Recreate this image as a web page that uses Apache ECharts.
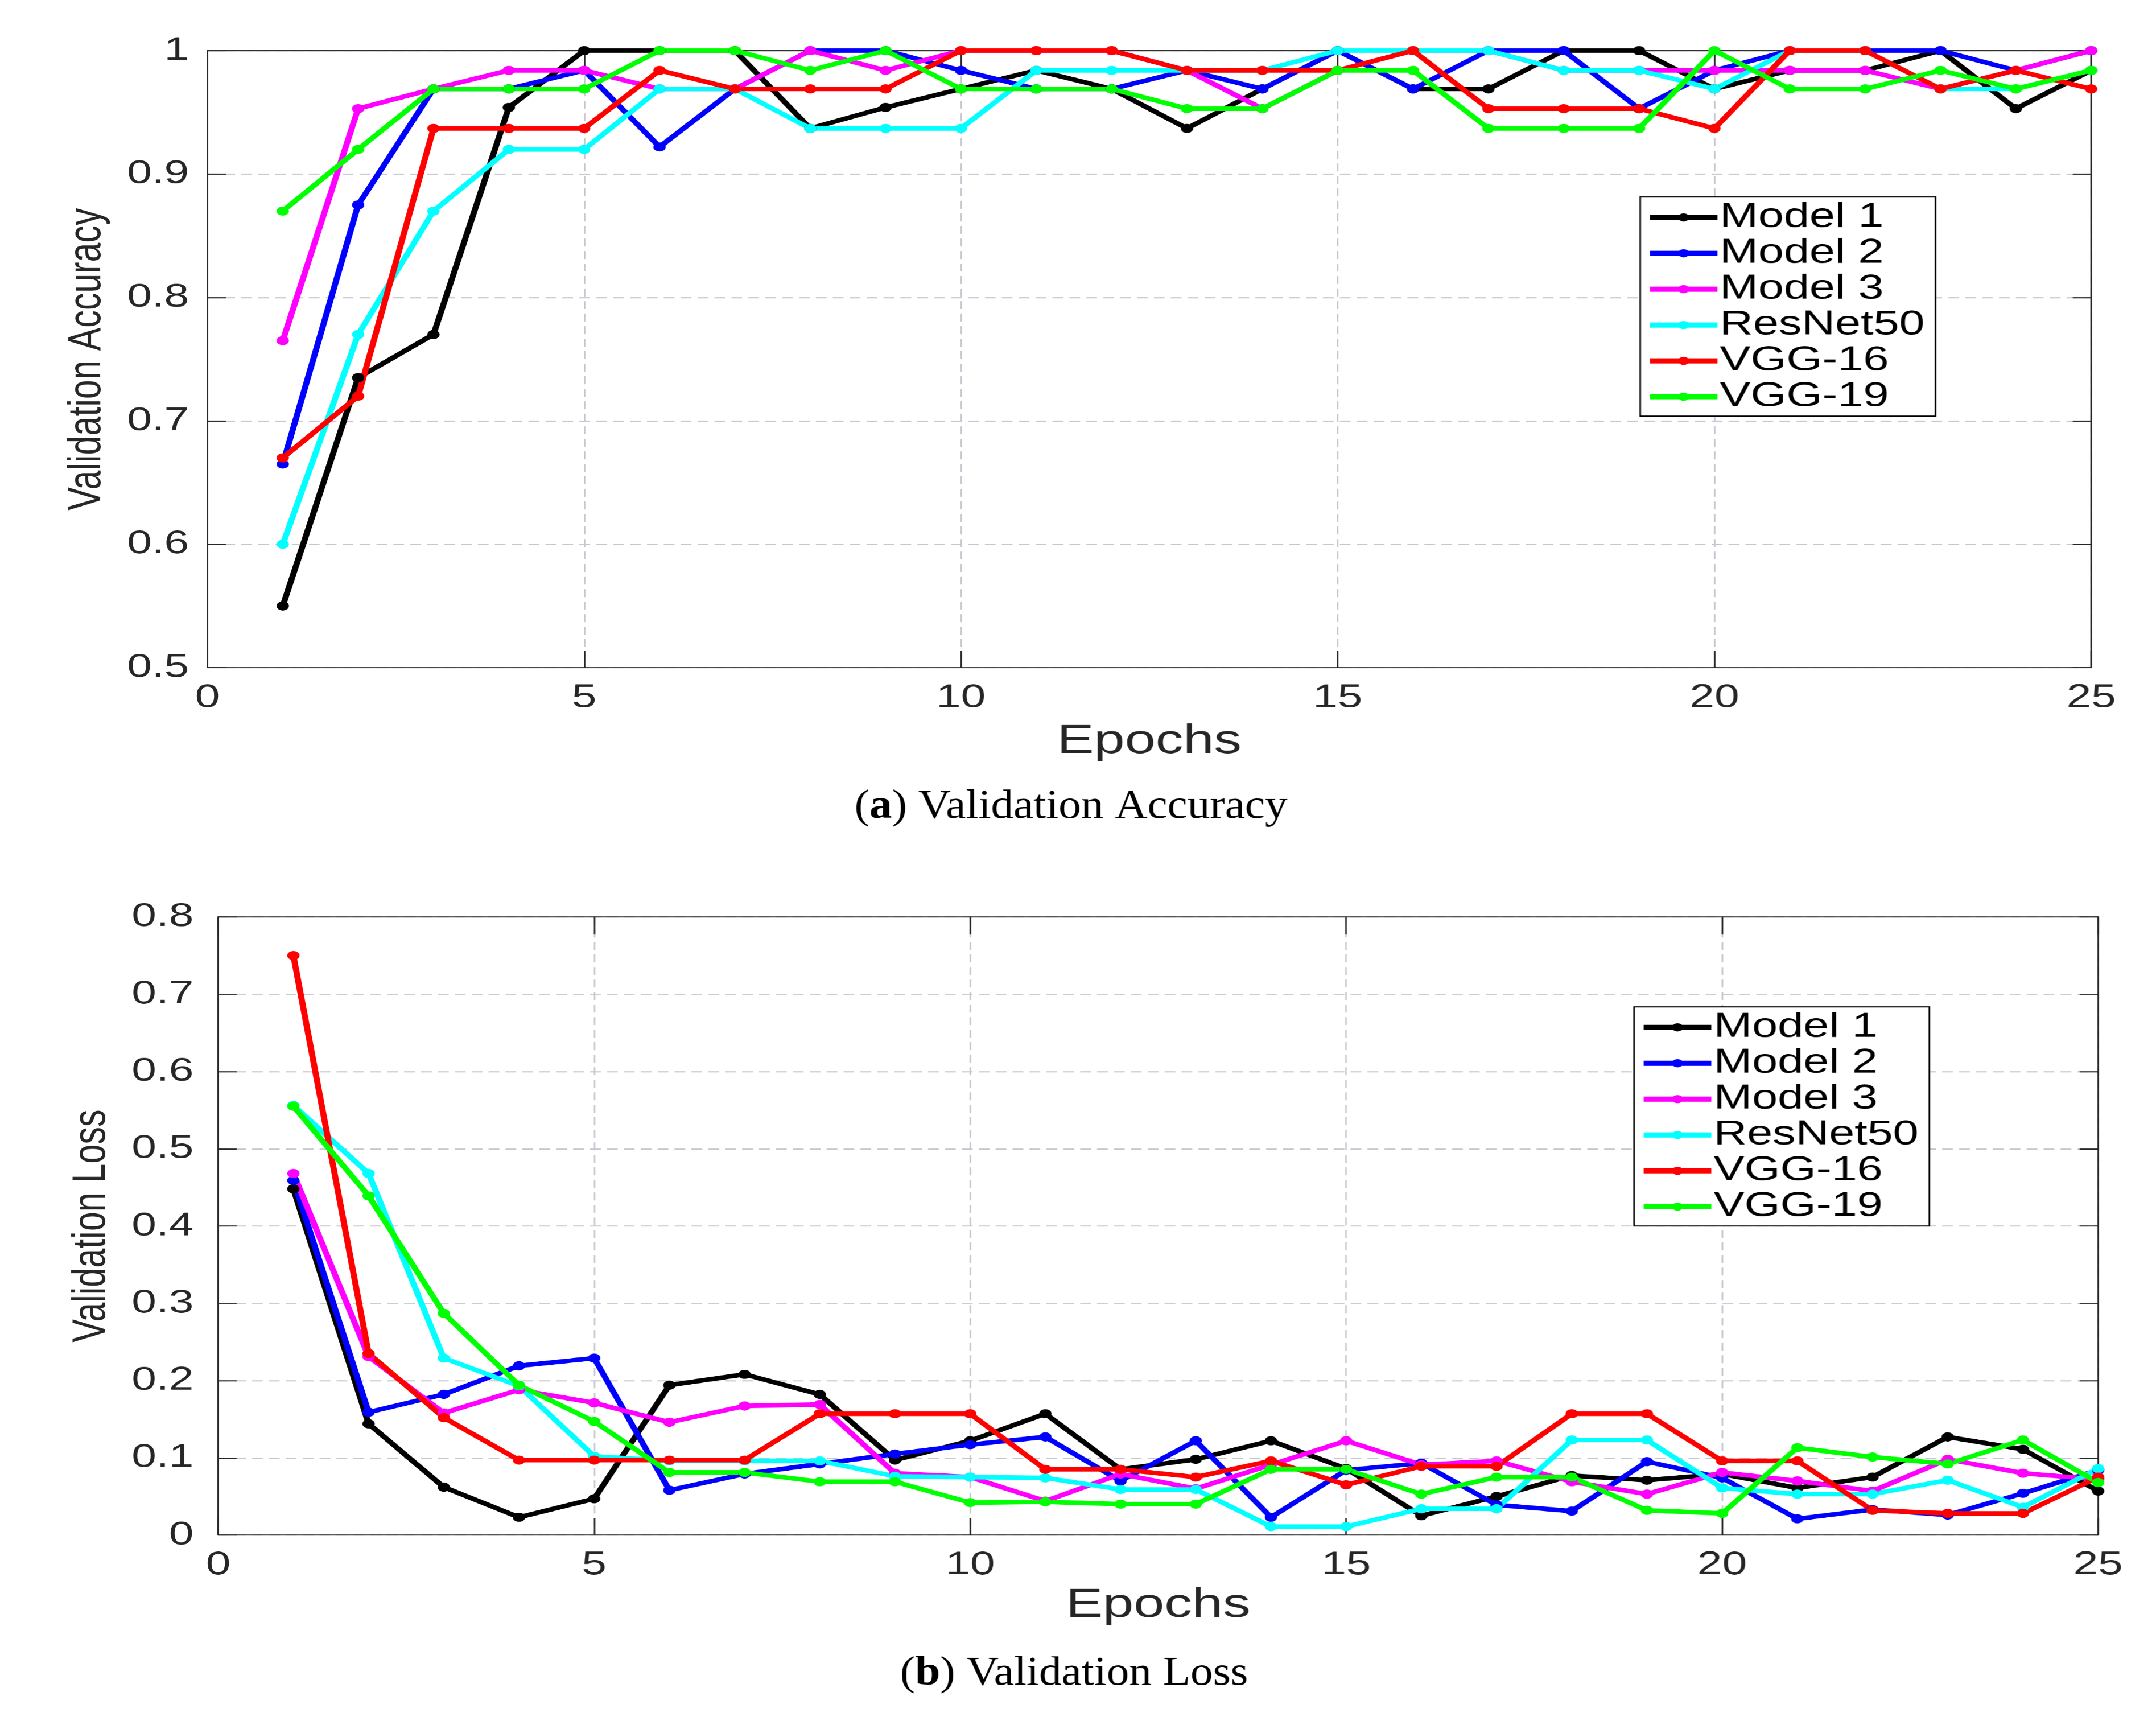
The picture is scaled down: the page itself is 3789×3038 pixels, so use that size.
<!DOCTYPE html>
<html>
<head>
<meta charset="utf-8">
<title>Validation Accuracy / Loss</title>
<script src="https://cdn.jsdelivr.net/npm/echarts@6/dist/echarts.min.js"></script>
<style>
  html, body { margin: 0; padding: 0; background: #fff; overflow: hidden; }
  /* the source figure is stretched sideways, so the chart is drawn narrow and widened */
  #chart { width: 2807px; height: 3038px; transform: scaleX(1.35); transform-origin: 0 0; }
</style>
</head>
<body>
<div id="chart"></div>
<script>
const STRETCH = 1.35;

// epochs and model names
const epochs = [1, 2, 3, 4, 5, 6, 7, 8, 9, 10, 11, 12, 13, 14, 15, 16, 17, 18, 19, 20, 21, 22, 23, 24, 25];
const modelNames = ["Model 1", "Model 2", "Model 3", "ResNet50", "VGG-16", "VGG-19"];
const modelColors = ["#000000", "#0000ff", "#ff00ff", "#00ffff", "#ff0000", "#00ff00"];

// validation accuracy
const accModel1 = [0.55, 0.735, 0.77, 0.954, 1, 1, 1, 0.937, 0.954, 0.969, 0.984, 0.969, 0.937, 0.969, 1, 0.969, 0.969, 1, 1, 0.969, 0.984, 0.984, 1, 0.953, 0.984];
const accModel2 = [0.665, 0.875, 0.969, 0.969, 0.984, 0.922, 0.969, 1, 1, 0.984, 0.969, 0.969, 0.984, 0.969, 1, 0.969, 1, 1, 0.953, 0.984, 1, 1, 1, 0.984, 1];
const accModel3 = [0.765, 0.953, 0.969, 0.984, 0.984, 0.969, 0.969, 1, 0.984, 1, 1, 1, 0.984, 0.953, 0.984, 1, 1, 0.984, 0.984, 0.984, 0.984, 0.984, 0.969, 0.984, 1];
const accResNet50 = [0.6, 0.77, 0.87, 0.92, 0.92, 0.969, 0.969, 0.937, 0.937, 0.937, 0.984, 0.984, 0.984, 0.984, 1, 1, 1, 0.984, 0.984, 0.969, 1, 1, 0.969, 0.969, 0.984];
const accVgg16 = [0.67, 0.72, 0.937, 0.937, 0.937, 0.984, 0.969, 0.969, 0.969, 1, 1, 1, 0.984, 0.984, 0.984, 1, 0.953, 0.953, 0.953, 0.937, 1, 1, 0.969, 0.984, 0.969];
const accVgg19 = [0.87, 0.92, 0.969, 0.969, 0.969, 1, 1, 0.984, 1, 0.969, 0.969, 0.969, 0.953, 0.953, 0.984, 0.984, 0.937, 0.937, 0.937, 1, 0.969, 0.969, 0.984, 0.969, 0.984];

// validation loss
const lossModel1 = [0.448, 0.144, 0.062, 0.023, 0.047, 0.194, 0.208, 0.182, 0.097, 0.122, 0.157, 0.085, 0.098, 0.122, 0.086, 0.025, 0.050, 0.077, 0.071, 0.079, 0.061, 0.075, 0.127, 0.111, 0.057];
const lossModel2 = [0.459, 0.159, 0.182, 0.219, 0.229, 0.058, 0.079, 0.092, 0.105, 0.117, 0.127, 0.070, 0.122, 0.023, 0.084, 0.093, 0.039, 0.031, 0.095, 0.074, 0.021, 0.033, 0.026, 0.054, 0.084];
const lossModel3 = [0.468, 0.231, 0.158, 0.188, 0.171, 0.146, 0.167, 0.169, 0.080, 0.075, 0.044, 0.079, 0.060, 0.091, 0.122, 0.091, 0.096, 0.069, 0.053, 0.081, 0.070, 0.057, 0.098, 0.080, 0.072];
const lossResNet50 = [0.556, 0.468, 0.229, 0.193, 0.102, 0.096, 0.096, 0.096, 0.076, 0.075, 0.074, 0.059, 0.059, 0.011, 0.011, 0.034, 0.034, 0.123, 0.123, 0.061, 0.053, 0.053, 0.071, 0.036, 0.086];
const lossVgg16 = [0.750, 0.235, 0.152, 0.097, 0.097, 0.097, 0.097, 0.157, 0.157, 0.157, 0.085, 0.085, 0.075, 0.096, 0.065, 0.089, 0.089, 0.157, 0.157, 0.096, 0.096, 0.032, 0.028, 0.028, 0.075];
const lossVgg19 = [0.555, 0.439, 0.287, 0.194, 0.147, 0.081, 0.081, 0.069, 0.069, 0.042, 0.043, 0.040, 0.040, 0.085, 0.085, 0.053, 0.075, 0.075, 0.032, 0.028, 0.113, 0.101, 0.092, 0.123, 0.068];

const accData = [accModel1, accModel2, accModel3, accResNet50, accVgg16, accVgg19];
const lossData = [lossModel1, lossModel2, lossModel3, lossResNet50, lossVgg16, lossVgg19];

const labelFont = "Liberation Sans, Arial, Helvetica, sans-serif";
const serifFont = "Liberation Serif, Times New Roman, serif";
const tickColor = "#262626";
const gridDash = { color: "#c6c6d0", type: [14, 8], width: 2 };

function makeXAxis(gridIndex, showLabels, nameGap) {
  return {
    type: "value",
    gridIndex: gridIndex,
    position: showLabels ? "bottom" : "top",
    min: 0,
    max: 25,
    interval: 5,
    name: showLabels ? "Epochs" : "",
    nameLocation: "middle",
    nameGap: nameGap,
    nameTextStyle: { fontFamily: labelFont, fontSize: 72, color: tickColor },
    axisLine: { show: true, onZero: false, lineStyle: { color: tickColor, width: 2 } },
    axisTick: { show: true, inside: true, length: 30, lineStyle: { color: tickColor, width: 2 } },
    axisLabel: { show: showLabels, margin: 24, fontFamily: labelFont, fontSize: 58, color: tickColor },
    splitLine: { show: showLabels, lineStyle: gridDash },
  };
}

function makeYAxis(gridIndex, showLabels, min, max, title, labelMargin, nameGap) {
  return {
    type: "value",
    gridIndex: gridIndex,
    position: showLabels ? "left" : "right",
    min: min,
    max: max,
    interval: 0.1,
    name: showLabels ? title : "",
    nameLocation: "middle",
    nameGap: nameGap,
    nameRotate: 90,
    nameTextStyle: { fontFamily: labelFont, fontSize: 61, color: tickColor },
    axisLine: { show: true, onZero: false, lineStyle: { color: tickColor, width: 2 } },
    axisTick: { show: true, inside: true, length: 24, lineStyle: { color: tickColor, width: 2 } },
    axisLabel: {
      show: showLabels,
      margin: labelMargin,
      fontFamily: labelFont,
      fontSize: 58,
      color: tickColor,
      formatter: function (v) {
        const r = Math.round(v * 10) / 10;
        return r === 0 || r === 1 ? String(r) : r.toFixed(1);
      },
    },
    splitLine: { show: showLabels, lineStyle: gridDash },
  };
}

function makeSeries(dataList, axisIndex) {
  let out = [];
  for (let i = 0; i < modelNames.length; i++) {
    out.push({
      name: modelNames[i],
      type: "line",
      xAxisIndex: axisIndex,
      yAxisIndex: axisIndex,
      data: epochs.map((e, k) => [e, dataList[i][k]]),
      symbol: "circle",
      symbolSize: 16,
      showSymbol: true,
      color: modelColors[i],
      lineStyle: { width: 8, color: modelColors[i] },
      itemStyle: { color: modelColors[i] },
      animation: false,
    });
  }
  return out;
}

function makeLegend(left, top) {
  return {
    orient: "vertical",
    left: left,
    top: top,
    data: modelNames,
    backgroundColor: "#ffffff",
    borderColor: "#000000",
    borderWidth: 2,
    padding: [6, 14, 4, 8],
    itemWidth: 88,
    itemHeight: 18,
    itemGap: 3,
    selectedMode: false,
    lineStyle: { width: 9 },
    textStyle: { fontFamily: labelFont, fontSize: 60, color: "#000", padding: [0, 0, 0, -2] },
  };
}

// captions sit under each plot; the caption font is not widened as much as the plot
function makeCaption(letter, text, cx, cy) {
  return {
    type: "text",
    x: cx,
    y: cy,
    scaleX: 1.1 / STRETCH,
    style: {
      text: "{p|(}{b|" + letter + "}{p|) " + text + "}",
      align: "center",
      verticalAlign: "middle",
      rich: {
        p: { fontFamily: serifFont, fontSize: 72, fontWeight: "normal", fill: "#000" },
        b: { fontFamily: serifFont, fontSize: 72, fontWeight: "bold", fill: "#000" },
      },
    },
  };
}

let chart = echarts.init(document.getElementById("chart"), null, { renderer: "canvas", devicePixelRatio: STRETCH });

let option = {
  backgroundColor: "#ffffff",
  animation: false,
  legend: [makeLegend(2135, 346), makeLegend(2127, 1769)],
  grid: [
    { left: 270, right: 85, top: 89, bottom: 1865 },
    { left: 284, right: 76, top: 1611, bottom: 341 },
  ],
  xAxis: [makeXAxis(0, true, 94), makeXAxis(1, true, 88), makeXAxis(0, false, 0), makeXAxis(1, false, 0)],
  yAxis: [
    makeYAxis(0, true, 0.5, 1, "Validation Accuracy", 24, 126),
    makeYAxis(1, true, 0, 0.8, "Validation Loss", 32, 134),
    makeYAxis(0, false, 0.5, 1, "", 0, 0),
    makeYAxis(1, false, 0, 0.8, "", 0, 0),
  ],
  graphic: [
    makeCaption("a", "Validation Accuracy", 1394, 1418),
    makeCaption("b", "Validation Loss", 1398, 2941),
  ],
  series: makeSeries(accData, 0).concat(makeSeries(lossData, 1)),
};

chart.setOption(option);
</script>
</body>
</html>
